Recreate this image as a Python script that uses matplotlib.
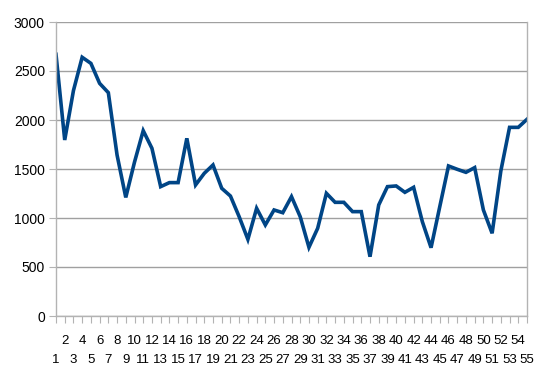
import matplotlib
matplotlib.use("Agg")
import matplotlib.pyplot as plt

plt.rcParams['font.family'] = ['Liberation Sans', 'DejaVu Sans']

# values, one per category 1..55
categories = list(range(1, 56))
values = [2670, 1796, 2300, 2640, 2578, 2374, 2279, 1643, 1210, 1570,
          1891, 1711, 1320, 1361, 1361, 1813, 1337, 1456, 1541, 1303,
          1224, 1013, 782, 1099, 929, 1082, 1054, 1218, 1013, 701,
          895, 1252, 1160, 1160, 1065, 1065, 605, 1133, 1320, 1327,
          1262, 1313, 963, 697, 1116, 1531, 1497, 1466, 1514, 1082,
          844, 1480, 1925, 1925, 2007]
y_ticks = [0, 500, 1000, 1500, 2000, 2500, 3000]

# odd labels go on the lower row (major ticks), even ones on the upper row (minor ticks)
odd_cats = [c for c in categories if c % 2 == 1]
even_cats = [c for c in categories if c % 2 == 0]

fig = plt.figure(figsize=(5.48, 3.76), dpi=100)
ax = fig.add_axes([56/548, 60/376, 471/548, 294/376])

ax.plot(categories, values, color='#004586', linewidth=2.6, solid_joinstyle='miter')

ax.set_xlim(1, 55)
ax.set_ylim(0, 3000)
ax.set_yticks(y_ticks)
ax.set_xticks(odd_cats)
ax.set_xticklabels([str(c) for c in odd_cats])
ax.set_xticks(even_cats, minor=True)
ax.set_xticklabels([str(c) for c in even_cats], minor=True)
ax.yaxis.grid(True, color='#a0a0a0', linewidth=1)
ax.set_axisbelow(True)

for s in ['left', 'bottom', 'right']:
    ax.spines[s].set_color('#b3b3b3')
    ax.spines[s].set_linewidth(1)
ax.spines['top'].set_visible(False)

ax.tick_params(axis='x', which='major', length=5, width=0.8, color='#b3b3b3', pad=22.5, labelsize=9.5)
ax.tick_params(axis='x', which='minor', length=5, width=0.8, color='#b3b3b3', pad=8.5, labelsize=9.5)
ax.tick_params(axis='y', length=5, width=0.8, color='#b3b3b3', pad=3, labelsize=10)

fig.savefig("out.png", dpi=100)
